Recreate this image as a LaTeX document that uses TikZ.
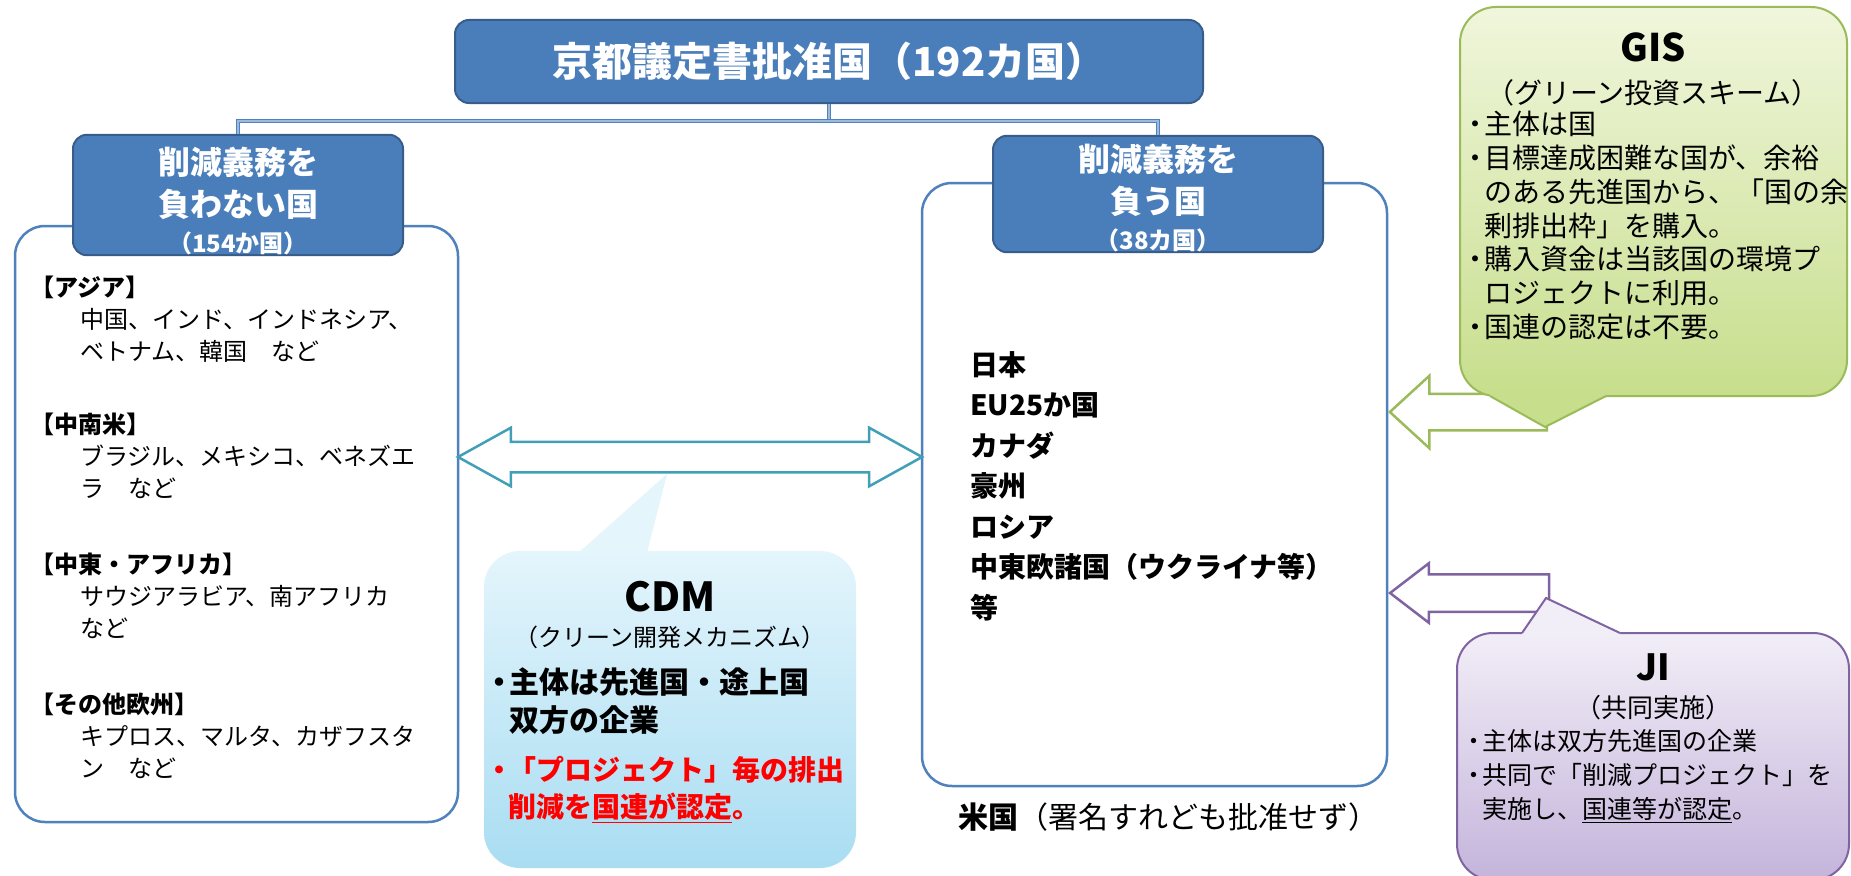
\documentclass[tikz,border=0pt]{standalone}
\usepackage{fontspec}
\setmainfont{Noto Sans CJK JP}
\usetikzlibrary{positioning,shapes.arrows}
\definecolor{hdrblue}{HTML}{4A7EBB}
\definecolor{hdrline}{HTML}{385D8A}
\definecolor{boxline}{HTML}{4F81BD}
\definecolor{cdmline}{HTML}{41A0B8}
\definecolor{cdmtop}{HTML}{E4F5FC}
\definecolor{cdmbot}{HTML}{A9DDF2}
\definecolor{gisline}{HTML}{9BBB59}
\definecolor{gistop}{HTML}{F0F6DC}
\definecolor{gisbot}{HTML}{C7DE8C}
\definecolor{jiline}{HTML}{8064A2}
\definecolor{jitop}{HTML}{F2EEF7}
\definecolor{jibot}{HTML}{C4B4DB}
\newcommand{\bul}{\makebox[0.65em][c]{・}}
\newcommand{\ind}{\hspace*{0.65em}}

\begin{document}
\begin{tikzpicture}[x=1pt, y=-1pt,
    hdr/.style = {rounded corners=14pt, fill=hdrblue, draw=hdrline, line width=2pt, text=white, align=center, inner sep=0pt},
    panel/.style = {rounded corners=30pt, draw=boxline, line width=2.5pt, fill=white, inner sep=0pt},
    link/.style = {draw=boxline, line width=1.6pt, double=boxline!55, double distance=1.6pt},
    bubble/.style = {rounded corners=36pt, inner sep=0pt},
    blk/.style = {align=left, anchor=north west, inner sep=0pt},
    ttl/.style = {inner sep=0pt},
    blockarrow/.style = {fill=white, line width=2.5pt, inner sep=0pt}]
    \useasboundingbox (0,0) rectangle (1851,875);
    \fill[white] (0,0) rectangle (1851,875);

    \node[panel, minimum width=443pt, minimum height=596pt] (lbox) at (236.5,524) {};
    \node[panel, minimum width=465pt, minimum height=603pt] (rbox) at (1154.5,484.5) {};

    \node[hdr, minimum width=748pt, minimum height=83pt, font=\bfseries\fontsize{40}{48}\selectfont] (top) at (829,61.5) {京都議定書批准国（192カ国）};
    \node[hdr, minimum width=330pt, minimum height=116pt, font=\bfseries\fontsize{32}{42}\selectfont] (lhead) at (238,195) {\rule{0pt}{40pt}削減義務を\\負わない国\\[-6pt]{\fontsize{24}{28}\selectfont（154か国）}};
    \node[hdr, minimum width=330pt, minimum height=116pt, font=\bfseries\fontsize{32}{42}\selectfont] (rhead) at (1158,194) {\rule{0pt}{36pt}削減義務を\\負う国\\[-6pt]{\fontsize{24}{28}\selectfont（38カ国）}};
    \coordinate (bus) at (829,121);
    \draw[link] (top) -- (bus);
    \draw[link] (lhead.north) |- (bus) -| (rhead.north);

    \node[blk, font=\fontsize{24}{32}\selectfont] (asia) at (30,276) {\textbf{【アジア】}\\\hspace*{50pt}中国、インド、インドネシア、\\\hspace*{50pt}ベトナム、韓国\hspace{1em}など};
    \node[blk, font=\fontsize{24}{32}\selectfont] (latam) at (30,413) {\textbf{【中南米】}\\\hspace*{50pt}ブラジル、メキシコ、ベネズエ\\\hspace*{50pt}ラ\hspace{1em}など};
    \node[blk, font=\fontsize{24}{32}\selectfont] (mideast) at (30,553) {\textbf{【中東・アフリカ】}\\\hspace*{50pt}サウジアラビア、南アフリカ\\\hspace*{50pt}など};
    \node[blk, font=\fontsize{24}{32}\selectfont] (europe) at (30,693) {\textbf{【その他欧州】}\\\hspace*{50pt}キプロス、マルタ、カザフスタ\\\hspace*{50pt}ン\hspace{1em}など};

    \node[blk, font=\bfseries\fontsize{28}{40.5}\selectfont] (members) at (970,351) {日本\\EU25か国\\カナダ\\豪州\\ロシア\\中東欧諸国（ウクライナ等）\\等};
    \node[anchor=west, inner sep=0pt, font=\fontsize{30}{32}\selectfont] (usa) at (958,817) {\textbf{米国}（署名すれども批准せず）};

    \node[double arrow, blockarrow, draw=cdmline, minimum height=464pt, minimum width=56pt, inner ysep=14pt, double arrow head extend=14pt, double arrow tip angle=58] (trade) at (690,457) {};
    \coordinate (cdmtip) at (667,474);
    \fill[cdmtop] (548,580) -- (cdmtip) -- (640,580) -- cycle;
    \node[bubble, top color=cdmtop, bottom color=cdmbot, minimum width=372pt, minimum height=317pt] (cdm) at (670,709.5) {};
    \node[ttl, font=\bfseries\fontsize{40}{44}\selectfont] (cdmttl) at (670,597) {CDM};
    \node[ttl, below=13pt of cdmttl, font=\fontsize{24}{28}\selectfont] (cdmsub) {（クリーン開発メカニズム）};
    \node[blk, font=\bfseries\fontsize{30}{38}\selectfont] (cdmbody) at (490,667) {\bul 主体は先進国・途上国\\\ind 双方の企業};
    \node[blk, font=\bfseries\fontsize{28}{37}\selectfont, text=red] (cdmred) at (490,756) {\bul「プロジェクト」毎の排出\\\ind 削減を\underline{国連が認定}。};

    \node[single arrow, blockarrow, draw=gisline, minimum height=157pt, minimum width=70pt, inner ysep=17pt, single arrow head extend=18pt, single arrow tip angle=85, rotate=180, anchor=tip] (gisarr) at (1388,412) {};
    \node[bubble, draw=gisline, line width=2pt, top color=gistop, bottom color=gisbot, minimum width=387pt, minimum height=389pt] (gis) at (1653.5,201.5) {};
    \coordinate (gistip) at (1545,427);
    \fill[gisbot] (1490,392) -- (1490,396) -- (gistip) -- (1606,396) -- (1606,392) -- cycle;
    \draw[gisline, line width=2pt] (1490,396) -- (gistip) -- (1606,396);
    \node[ttl, font=\bfseries\fontsize{38}{42}\selectfont] (gisttl) at (1653,47) {GIS};
    \node[ttl, below=17pt of gisttl, font=\fontsize{28}{32}\selectfont] (gissub) {（グリーン投資スキーム）};
    \node[blk, font=\fontsize{28}{33.8}\selectfont] (gisbody) at (1466,111) {\bul 主体は国\\\bul 目標達成困難な国が、余裕\\\ind のある先進国から、「国の余\\\ind 剰排出枠」を購入。\\\bul 購入資金は当該国の環境プ\\\ind ロジェクトに利用。\\\bul 国連の認定は不要。};

    \node[single arrow, blockarrow, draw=jiline, minimum height=159pt, minimum width=57pt, inner ysep=17.5pt, single arrow head extend=11pt, single arrow tip angle=75, rotate=180, anchor=tip] (jiarr) at (1388,593) {};
    \node[bubble, draw=jiline, line width=2pt, top color=jitop, bottom color=jibot, minimum width=392pt, minimum height=247pt] (ji) at (1653,756.5) {};
    \coordinate (jitip) at (1546,598);
    \fill[jitop] (1522,637) -- (1522,633) -- (jitip) -- (1620,633) -- (1620,637) -- cycle;
    \draw[jiline, line width=2pt] (1522,633) -- (jitip) -- (1620,633);
    \node[ttl, font=\bfseries\fontsize{36}{40}\selectfont] (jittl) at (1653,667) {JI};
    \node[ttl, below=14pt of jittl, font=\fontsize{26}{30}\selectfont] (jisub) {（共同実施）};
    \node[blk, font=\fontsize{25}{34}\selectfont] (jibody) at (1466,729.5) {\bul 主体は双方先進国の企業\\\bul 共同で「削減プロジェクト」を\\\ind 実施し、\underline{国連等が認定}。};
\end{tikzpicture}
\end{document}
